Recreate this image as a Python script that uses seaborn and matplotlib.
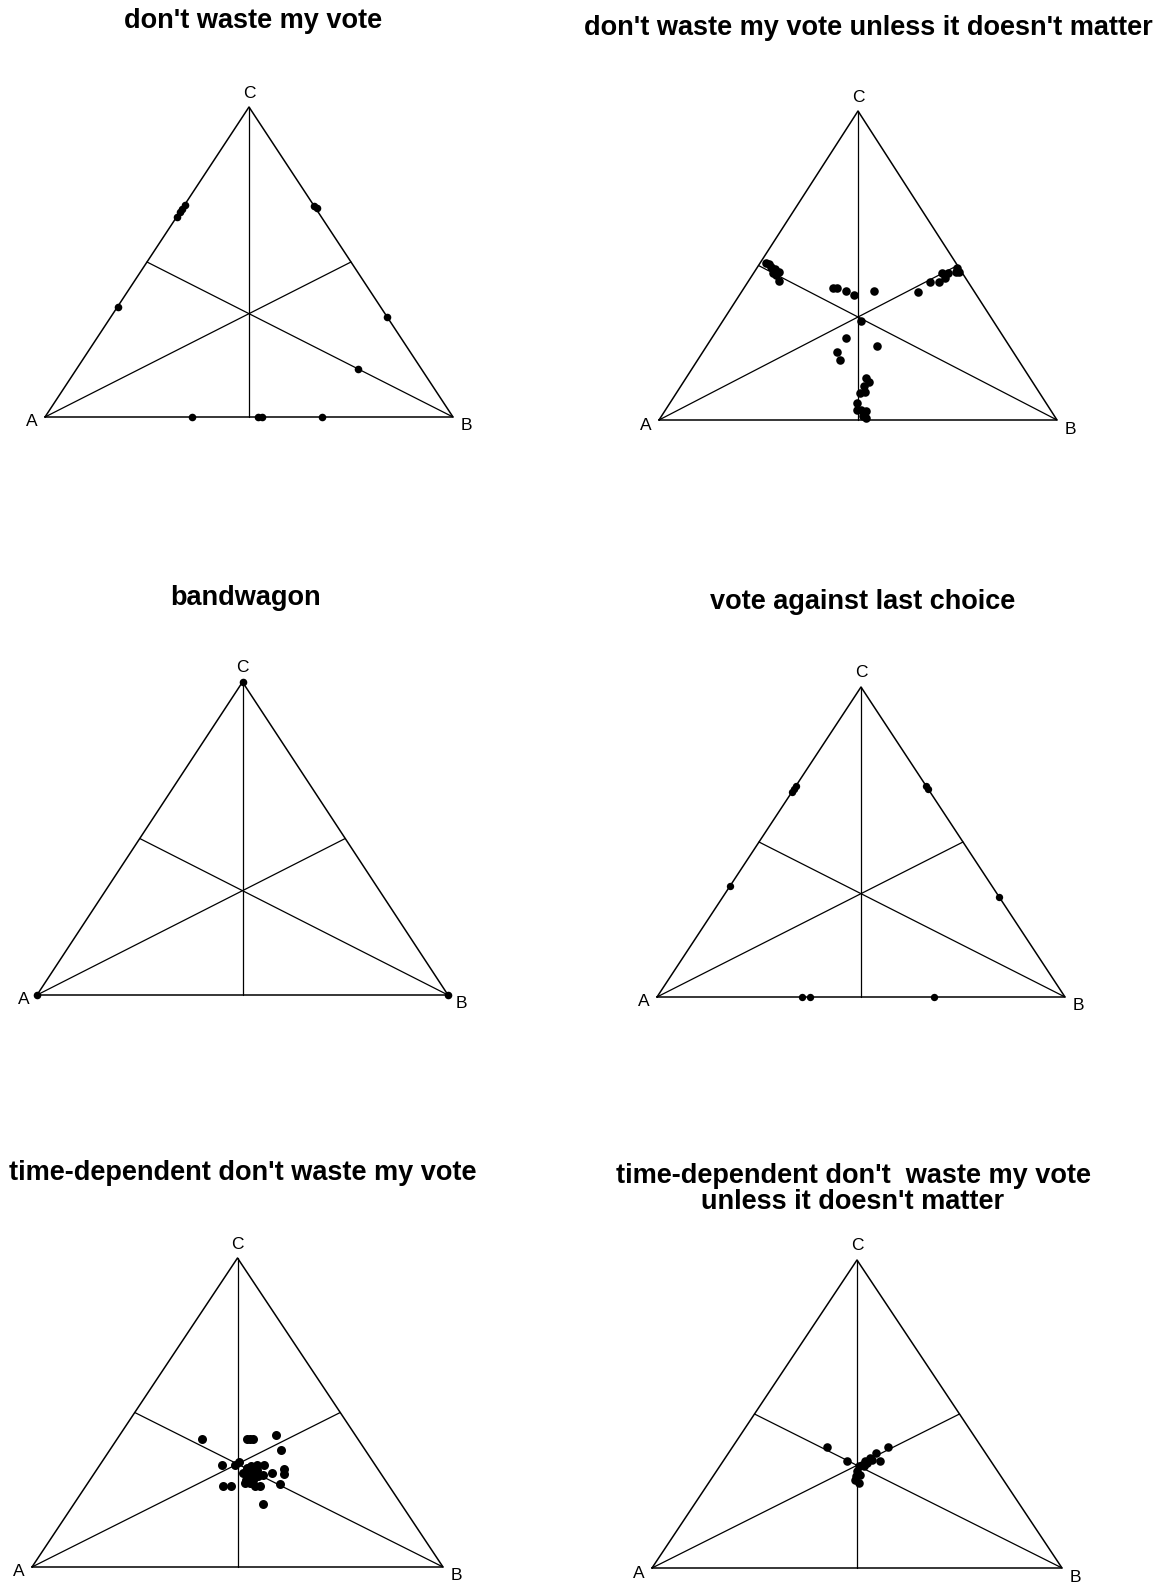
import numpy as np
import pandas as pd
import seaborn as sns
import matplotlib.pyplot as plt

titles = ["don't waste my vote",
          "don't waste my vote unless it doesn't matter",
          "bandwagon",
          "vote against last choice",
          "time-dependent don't waste my vote",
          "time-dependent don't  waste my vote\nunless it doesn't matter"]
corners = ['A', 'B', 'C']

# share of the vote for B and for C (A gets the rest)
waste_b = [0, 0, 0, 0, 0.33, 0.32, 0, 0.678, 0.69, 0.36, 0.523, 0.531, 0.68]
waste_c = [0.685, 0.672, 0.646, 0.662, 0.675, 0.68, 0.356, 0.322, 0.155, 0, 0, 0, 0]

unless_b = [0.015, 0.034, 0.047, 0.062, 0.048, 0.060, 0.076, 0.024,
            0.503, 0.505, 0.489, 0.474, 0.488, 0.480, 0.458, 0.444, 0.514,
            0.224, 0.234, 0.261, 0.288, 0.331, 0.347, 0.337, 0.428, 0.338, 0.359,
            0.451, 0.467, 0.460, 0.462, 0.472, 0.470, 0.482, 0.493, 0.505, 0.507, 0.516]
unless_c = [0.509, 0.496, 0.488, 0.480, 0.477, 0.469, 0.451, 0.504,
            0.491, 0.480, 0.475, 0.475, 0.459, 0.448, 0.448, 0.413, 0.480,
            0.426, 0.426, 0.416, 0.403, 0.416, 0.322, 0.265, 0.240, 0.219, 0.193,
            0.136, 0.122, 0.109, 0.087, 0.089, 0.055, 0.031, 0.031, 0.028, 0.012, 0.006]

bandwagon_b = [0, 1, 0]
bandwagon_c = [0, 0, 1]

against_b = [0, 0, 0, 0.32, 0.33, 0, 0.678, 0.355, 0.374, 0.678]
against_c = [0.68, 0.67, 0.66, 0.68, 0.67, 0.357, 0.322, 0, 0, 0]

timedep_b = [0.205, 0.316, 0.324, 0.331, 0.381, 0.415, 0.298, 0.328, 0.335, 0.40,
             0.455, 0.462, 0.431, 0.470, 0.333, 0.352, 0.460,
             0.362, 0.370, 0.381, 0.386, 0.380, 0.362, 0.404, 0.413, 0.394,
             0.411, 0.423, 0.380, 0.397, 0.382, 0.389]
timedep_c = [0.415, 0.415, 0.415, 0.415, 0.426, 0.380, 0.331, 0.331, 0.339, 0.329,
             0.316, 0.302, 0.304, 0.269, 0.262, 0.262, 0.205,
             0.320, 0.328, 0.331, 0.304, 0.293, 0.304, 0.293, 0.299, 0.272,
             0.263, 0.263, 0.283, 0.283, 0.272, 0.315]

timedep_unless_b = [0.230, 0.303, 0.378, 0.360, 0.383, 0.352, 0.347, 0.344, 0.339,
                    0.343, 0.349, 0.352, 0.366, 0.357, 0.351, 0.354, 0.361]
timedep_unless_c = [0.393, 0.347, 0.393, 0.374, 0.347, 0.357, 0.347, 0.336, 0.330,
                    0.314, 0.298, 0.287, 0.276, 0.303, 0.330, 0.341, 0.352]

panels = [(waste_b, waste_c), (unless_b, unless_c), (bandwagon_b, bandwagon_c),
          (against_b, against_c), (timedep_b, timedep_c),
          (timedep_unless_b, timedep_unless_c)]

W, H = 1156, 1585
# triangle boxes in pixels: left, top, width, height
boxes = [(45, 107, 408, 310), (659, 111, 398, 309), (37, 682, 411, 313),
         (657, 687, 408, 310), (32, 1258, 411, 309), (652, 1260, 410, 308)]
title_pos = [(253, 21), (868, 28), (246, 598), (863, 602), (243, 1173), (853, 1189)]
dot_size = [30, 38, 30, 28, 42, 38]

sns.set_style('white')
plt.rcParams['font.family'] = ['Liberation Sans', 'DejaVu Sans']
plt.rcParams['text.color'] = 'black'
fig = plt.figure(figsize=(W / 100, H / 100), dpi=100)

verts = np.array([[0, 0], [1, 0], [0.5, 1]])
mids = (verts[[1, 2, 0]] + verts[[2, 0, 1]]) / 2   # midpoint of the opposite side

for i, (b, c) in enumerate(panels):
    l, t, w, h = boxes[i]
    ax = fig.add_axes([l / W, 1 - (t + h) / H, w / W, h / H])
    ax.set_xlim(0, 1)
    ax.set_ylim(0, 1)
    ax.axis('off')

    tri = np.vstack([verts, verts[:1]])
    ax.plot(tri[:, 0], tri[:, 1], color='black', lw=1.1, clip_on=False)
    for v, m in zip(verts, mids):
        ax.plot([v[0], m[0]], [v[1], m[1]], color='black', lw=0.9, clip_on=False)

    b = np.array(b)
    c = np.array(c)
    df = pd.DataFrame({'x': b + 0.5 * c, 'y': c})
    sns.scatterplot(data=df, x='x', y='y', ax=ax, color='black', s=dot_size[i],
                    linewidth=0, clip_on=False, legend=False)

    ax.text(-13 / w, -5 / h, corners[0], ha='center', va='center', fontsize=12.5)
    ax.text(1 + 13 / w, -9 / h, corners[1], ha='center', va='center', fontsize=12.5)
    ax.text(0.5, 1 + 14 / h, corners[2], ha='center', va='center', fontsize=12.5)

    tx, ty = title_pos[i]
    fig.text(tx / W, 1 - ty / H, titles[i], ha='center', va='center',
             fontsize=19.5, fontweight='bold', linespacing=1.0)

fig.savefig('out.png', dpi=100)
